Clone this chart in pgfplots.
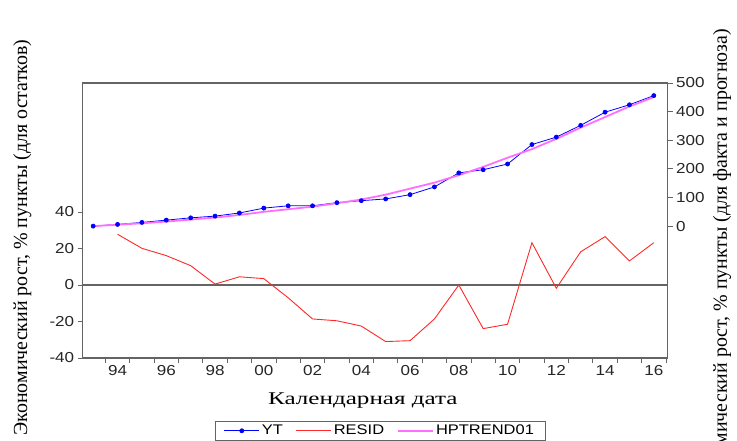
\documentclass[border=0pt]{standalone}
\usepackage{fontspec}
\setmainfont{Liberation Serif}
\newfontfamily\sansf{Liberation Sans}[FakeStretch=1.18]
\newfontfamily\serifx{Liberation Serif}[FakeStretch=1.4]
\usepackage{pgfplots}
\pgfplotsset{compat=1.18}
\definecolor{framegray}{RGB}{100,100,100}
\definecolor{hpcol}{RGB}{255,110,255}
\definecolor{residcol}{RGB}{255,40,40}
\definecolor{ytcol}{RGB}{0,0,255}
\pgfplotstableread{
year resid
1994 27.8
1995 20.1
1996 16.1
1997 10.6
1998 0.5
1999 4.5
2000 3.5
2001 -7.0
2002 -18.6
2003 -19.6
2004 -22.5
2005 -31.0
2006 -30.5
2007 -18.6
2008 0
2009 -23.9
2010 -21.5
2011 23.2
2012 -1.8
2013 18.2
2014 26.5
2015 13.2
2016 23.2
}\residtable
\pgfplotsset{
  common/.style={
    width=585bp, height=275bp, scale only axis,
    at={(0,0)}, anchor=south west,
    xmin=1992.57, xmax=2016.57,
    axis line style={framegray, line width=1.1pt},
    tick style={framegray, line width=0.9pt},
    tick align=outside, major tick length=5bp,
    tick label style={font=\sansf\fontsize{14.5}{16}\selectfont, text=black!85},
    /pgf/number format/assume math mode=true,
    /pgf/number format/1000 sep={},
    clip=false,
  }
}
\begin{document}
\begin{tikzpicture}
\begin{axis}[common,
  ymin=-40, ymax=110.7,
  ytick={-40,-20,0,20,40},
  ytick pos=left, xtick pos=bottom,
  xtick={1992.5,1993.5,...,2016.5}, xticklabels={},
  extra x ticks={1994,1996,1998,2000,2002,2004,2006,2008,2010,2012,2014,2016},
  extra x tick labels={94,96,98,00,02,04,06,08,10,12,14,16},
  extra x tick style={major tick length=0pt, tick label style={yshift=-4bp}},
  xlabel={\serifx\fontsize{18}{20}\selectfont Календарная дата},
  xlabel style={at={(rel axis cs:0.479,-0.153)}, anchor=center},
  ylabel={\fontsize{20}{22}\selectfont Экономический рост, \% пункты (для остатков)},
  ylabel style={at={(rel axis cs:-0.103,0.438)}, anchor=center},
]
\draw[framegray, line width=1.1pt] (axis cs:1992.57,0) -- (axis cs:2016.57,0);
\end{axis}
\begin{axis}[common,
  ymin=-460.6, ymax=500,
  ytick={0,100,200,300,400,500},
  hide x axis,
  axis y line*=right,
  ylabel={\fontsize{20}{22}\selectfont Экономический рост, \% пункты (для факта и прогноза)},
  ylabel style={at={(rel axis cs:1.093,0.345)}, anchor=center, rotate=0},
  legend columns=3,
  legend style={at={(rel axis cs:0.508,-0.229)}, anchor=north, draw=framegray,
    font=\sansf\fontsize{14}{16}\selectfont, inner xsep=9pt, inner ysep=2pt,
    /tikz/every even column/.append style={column sep=11bp}},
  legend image code/.code={\draw[mark repeat=2,mark phase=2,#1] plot coordinates {(0cm,0cm) (0.62cm,0cm) (1.24cm,0cm)};},
]
\addplot[color=ytcol, line width=0.8pt, mark=*, mark size=2pt] coordinates {
(1993,0) (1994,6) (1995,13) (1996,21) (1997,29) (1998,35) (1999,46) (2000,63)
(2001,71) (2002,71) (2003,82) (2004,89) (2005,95) (2006,110) (2007,137)
(2008,186) (2009,197) (2010,217) (2011,285) (2012,311) (2013,352) (2014,398)
(2015,424) (2016,456)};
\addlegendentry{YT}
% RESID belongs to the left axis (-40 .. 110.7); mapped onto this axis' scale
\addplot[color=residcol, line width=0.9pt,
  y filter/.expression={(y+40)*960.6/150.7-460.6}] table[x=year, y=resid] {\residtable};
\addlegendentry{RESID}
\addplot[color=hpcol, line width=1.8pt] coordinates {
(1993,0) (1994,5) (1995,10) (1996,16) (1997,23) (1998,30) (1999,39) (2000,50)
(2001,59) (2002,68) (2003,80) (2004,93) (2005,110) (2006,131) (2007,152)
(2008,178) (2009,207) (2010,239) (2011,269) (2012,305) (2013,344) (2014,381)
(2015,418) (2016,451)};
\addlegendentry{HPTREND01}
\end{axis}
\pgfresetboundingbox
\path[use as bounding box] (-82.7bp,-83bp) rectangle (654.3bp,358bp);
\end{tikzpicture}
\end{document}
